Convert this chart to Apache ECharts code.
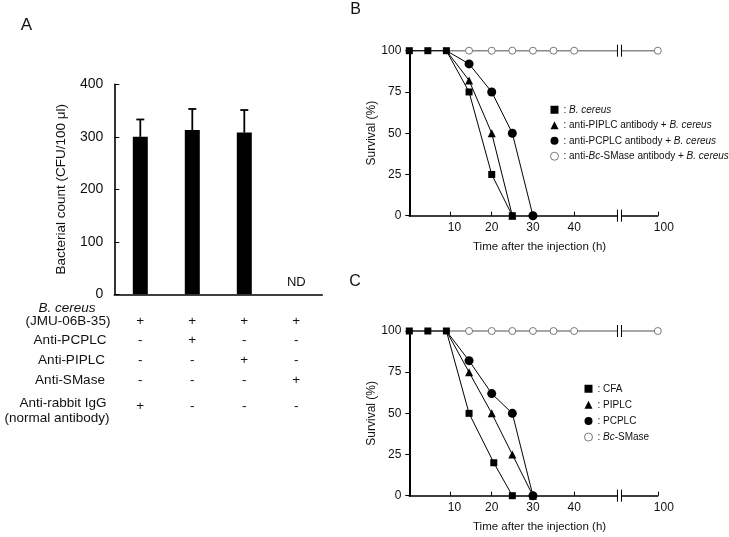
<!DOCTYPE html>
<html><head><meta charset="utf-8">
<script src="https://cdn.jsdelivr.net/npm/echarts@6/dist/echarts.min.js"></script>
<style>html,body{margin:0;padding:0;background:#fff}#c{width:729px;height:537px}</style>
</head><body><div id="c"></div>
<script>
// ---------- Panel A data ----------
const groups = ['G1', 'G2', 'G3', 'G4'];
const countMean = [300, 313, 308, 0];
const countUpper = [333, 353, 351, null];
const countLabel = ['', '', '', 'ND'];
const countTicks = [0, 100, 200, 300, 400];
const rowNames = ['B. cereus', '(JMU-06B-35)', 'Anti-PCPLC', 'Anti-PIPLC', 'Anti-SMase', 'Anti-rabbit IgG', '(normal antibody)'];
const rowBcereus = ['+', '+', '+', '+'];
const rowPCPLC = ['-', '+', '-', '-'];
const rowPIPLC = ['-', '-', '+', '-'];
const rowSMase = ['-', '-', '-', '+'];
const rowRabbit = ['+', '-', '-', '-'];

// ---------- Panel B data (time h, survival %) ----------
const bNames = ['B. cereus', 'anti-PIPLC antibody + B. cereus', 'anti-PCPLC antibody + B. cereus', 'anti-Bc-SMase antibody + B. cereus'];
const bSqT = [0, 4.5, 9, 14.5, 20, 25];
const bSqV = [100, 100, 100, 75, 25, 0];
const bTriT = [9, 14.5, 20, 25];
const bTriV = [100, 82, 50, 0];
const bCirT = [9, 14.5, 20, 25, 30];
const bCirV = [100, 92, 75, 50, 0];
const bOpenT = [0, 4.5, 9, 14.5, 20, 25, 30, 35, 40, 100];
const bOpenV = [100, 100, 100, 100, 100, 100, 100, 100, 100, 100];

// ---------- Panel C data ----------
const cNames = ['CFA', 'PIPLC', 'PCPLC', 'Bc-SMase'];
const cSqT = [0, 4.5, 9, 14.5, 20.5, 25];
const cSqV = [100, 100, 100, 50, 20, 0];
const cTriT = [9, 14.5, 20, 25, 30];
const cTriV = [100, 75, 50, 25, 0];
const cCirT = [9, 14.5, 20, 25, 30];
const cCirV = [100, 82, 62, 50, 0];
const cOpenT = [0, 4.5, 9, 14.5, 20, 25, 30, 35, 40, 100];
const cOpenV = [100, 100, 100, 100, 100, 100, 100, 100, 100, 100];

const survTicks = [0, 25, 50, 75, 100];
const timeTicks = [10, 20, 30, 40, 100];
const breakTime = 90.7;           // where the axis is broken (real hours)

// broken time axis: hours after the break are shifted left
const BREAK_SHIFT = 39.7;
const tPos = t => (t > 50 ? t - BREAK_SHIFT : t);
const X_MAX = tPos(100);

const FONT = 'Liberation Sans, Arial, sans-serif';

function pts(ts, vs, hideUpTo) {
  return ts.map((t, i) => {
    const item = { value: [tPos(t), vs[i]] };
    if (hideUpTo !== undefined && t <= hideUpTo) item.symbol = 'none';
    return item;
  });
}

function lineSeries(name, ts, vs, symbol, size, grid, hideUpTo, open) {
  return {
    type: 'line', name, xAxisIndex: grid, yAxisIndex: grid,
    data: pts(ts, vs, hideUpTo), symbol, symbolSize: size, clip: false,
    lineStyle: { color: open ? '#8a8a8a' : '#000', width: open ? 1.4 : 1 },
    itemStyle: open ? { color: '#fff', borderColor: '#777', borderWidth: 1 } : { color: '#000' },
    emphasis: { disabled: true }, z: open ? 2 : 3
  };
}

function breakSeries(grid) {
  return {
    type: 'custom', xAxisIndex: grid, yAxisIndex: grid, z: 5, clip: false,
    data: [[tPos(breakTime), 100], [tPos(breakTime), 0]],
    renderItem: (params, api) => {
      const p = api.coord([api.value(0), api.value(1)]);
      return { type: 'group', children: [
        { type: 'rect', shape: { x: p[0] - 1.5, y: p[1] - 5, width: 3, height: 10 }, style: { fill: '#fff' } },
        { type: 'line', shape: { x1: p[0] - 2, y1: p[1] - 6, x2: p[0] - 2, y2: p[1] + 6 }, style: { stroke: '#000', lineWidth: 1 } },
        { type: 'line', shape: { x1: p[0] + 2, y1: p[1] - 6, x2: p[0] + 2, y2: p[1] + 6 }, style: { stroke: '#000', lineWidth: 1 } }
      ] };
    }
  };
}

function legendFmt(name) {
  const it = s => '{i|' + s + '}';
  const n = s => '{n|' + s + '}';
  if (name.startsWith('anti-Bc-')) return n(': anti-') + it('Bc') + n(name.slice(7).replace(' B. cereus', ' ')) + it('B. cereus');
  if (name === 'Bc-SMase') return n(': ') + it('Bc') + n('-SMase');
  if (name === 'B. cereus') return n(': ') + it('B. cereus');
  if (name.endsWith('B. cereus')) return n(': ' + name.replace('B. cereus', '')) + it('B. cereus');
  return n(': ' + name);
}

function makeLegend(names, left, top, gap) {
  return {
    orient: 'vertical', left, top, itemWidth: 8, itemHeight: 8, itemGap: gap, padding: 0,
    selectedMode: false,
    data: [
      { name: names[0], icon: 'rect' },
      { name: names[1], icon: 'triangle' },
      { name: names[2], icon: 'circle' },
      { name: names[3], icon: 'circle', itemStyle: { color: '#fff', borderColor: '#777', borderWidth: 1 } }
    ],
    formatter: legendFmt,
    textStyle: { fontFamily: FONT, fontSize: 10, color: '#111', lineHeight: 11.5,
      rich: { i: { fontStyle: 'italic', fontSize: 10, fontFamily: FONT, color: '#111' }, n: { fontSize: 10, fontFamily: FONT, color: '#111' } } }
  };
}

function timeXAxis(grid) {
  return {
    gridIndex: grid, type: 'value', min: 0, max: X_MAX,
    axisLine: { lineStyle: { color: '#000', width: 1.6 } },
    axisTick: { show: true, inside: true, length: 4, customValues: timeTicks.map(tPos), lineStyle: { color: '#000', width: 1 } },
    axisLabel: { customValues: timeTicks.map(tPos), margin: 6, fontSize: 12, color: '#111', fontFamily: FONT,
      formatter: v => { const t = v > 50 ? 100 : Math.round(v); return t === 10 ? '{r1|10}' : t === 100 ? '{r2|100}' : String(t); },
      rich: { r1: { padding: [0, 0, 0, 8], fontSize: 12, fontFamily: FONT, color: '#111' }, r2: { padding: [0, 0, 0, 12], fontSize: 12, fontFamily: FONT, color: '#111' } } },
    splitLine: { show: false },
    name: 'Time after the injection (h)', nameLocation: 'middle', nameGap: 25,
    nameTextStyle: { fontSize: 11.5, color: '#111', fontFamily: FONT, padding: [0, 0, 0, 12] }
  };
}
function survYAxis(grid) {
  return {
    gridIndex: grid, type: 'value', min: survTicks[0], max: survTicks[survTicks.length - 1], interval: 25,
    axisLine: { show: true, lineStyle: { color: '#000', width: 2 } },
    axisTick: { show: true, length: 4, lineStyle: { color: '#000' } },
    axisLabel: { fontSize: 12, color: '#111', margin: 8, fontFamily: FONT },
    splitLine: { show: false },
    name: 'Survival (%)', nameLocation: 'middle', nameGap: 24,
    nameTextStyle: { fontSize: 12, color: '#111', fontFamily: FONT }
  };
}

const chart = echarts.init(document.getElementById('c'));
const textEl = (txt, x, y, size, extra) => ({ type: 'text', x, y, silent: true,
  style: Object.assign({ text: txt, fontSize: size, fontFamily: FONT, fill: '#111', align: 'center', verticalAlign: 'middle' }, extra || {}) });

const rowCenters = [[67, 308], [68, 321.7], [70, 340], [71.5, 360], [70, 380], [63, 403.3], [57, 418]];

chart.setOption({
  animation: false,
  textStyle: { fontFamily: FONT },
  grid: [
    { left: 114.3, top: 84.3, width: 208, height: 210 },
    { left: 409.3, top: 50.7, width: 248.5, height: 165 },
    { left: 409.3, top: 331, width: 248.5, height: 164.7 }
  ],
  legend: [makeLegend(bNames, 550, 104, 4), makeLegend(cNames, 584, 383, 4.6)],
  xAxis: [
    { gridIndex: 0, type: 'category', data: groups, boundaryGap: true,
      axisLine: { lineStyle: { color: '#000', width: 1.6 } },
      axisTick: { inside: true, length: 4, lineStyle: { color: '#000' } },
      axisLabel: { interval: 0, margin: 19, color: '#111', fontSize: 13.5, fontFamily: FONT,
        formatter: (v, i) => `{a|${rowBcereus[i]}}\n{b|${rowPCPLC[i]}}\n{b|${rowPIPLC[i]}}\n{b|${rowSMase[i]}}\n{c|${rowRabbit[i]}}`,
        rich: { a: { lineHeight: 16.6, fontSize: 13.5, fontFamily: FONT, color: '#111' },
                b: { lineHeight: 20, fontSize: 13.5, fontFamily: FONT, color: '#111' },
                c: { lineHeight: 32, fontSize: 13.5, fontFamily: FONT, color: '#111' } } } },
    timeXAxis(1), timeXAxis(2)
  ],
  yAxis: [
    { gridIndex: 0, type: 'value', min: countTicks[0], max: countTicks[countTicks.length - 1], interval: 100,
      axisLine: { show: true, lineStyle: { color: '#000', width: 1.6 } },
      axisTick: { show: true, inside: true, length: 5, lineStyle: { color: '#000' } },
      axisLabel: { fontSize: 14, color: '#111', margin: 11, fontFamily: FONT },
      splitLine: { show: false },
      name: 'Bacterial count (CFU/100 μl)', nameLocation: 'middle', nameGap: 46,
      nameTextStyle: { fontSize: 13.5, color: '#111', fontFamily: FONT } },
    survYAxis(1), survYAxis(2)
  ],
  series: [
    { type: 'bar', xAxisIndex: 0, yAxisIndex: 0, barWidth: 15,
      data: countMean.map((v, i) => ({ value: v, label: { show: !!countLabel[i], formatter: countLabel[i] } })),
      itemStyle: { color: '#000' },
      label: { position: 'top', distance: 5, fontSize: 13, color: '#111', fontFamily: FONT } },
    { type: 'custom', xAxisIndex: 0, yAxisIndex: 0, z: 3,
      data: countMean.map((v, i) => [i, v, countUpper[i]]).filter(d => d[2] !== null),
      renderItem: (params, api) => {
        const base = api.coord([api.value(0), api.value(1)]);
        const top = api.coord([api.value(0), api.value(2)]);
        return { type: 'group', children: [
          { type: 'line', shape: { x1: base[0], y1: base[1], x2: top[0], y2: top[1] }, style: { stroke: '#000', lineWidth: 1.8 } },
          { type: 'line', shape: { x1: top[0] - 4, y1: top[1], x2: top[0] + 4, y2: top[1] }, style: { stroke: '#000', lineWidth: 1.8 } }
        ] };
      } },
    // Panel B
    lineSeries(bNames[3], bOpenT, bOpenV, 'circle', 7, 1, 9, true),
    lineSeries(bNames[1], bTriT, bTriV, 'triangle', 8, 1, 9),
    lineSeries(bNames[2], bCirT, bCirV, 'circle', 9, 1, 9),
    lineSeries(bNames[0], bSqT, bSqV, 'rect', 7, 1),
    breakSeries(1),
    // Panel C
    lineSeries(cNames[3], cOpenT, cOpenV, 'circle', 7, 2, 9, true),
    lineSeries(cNames[1], cTriT, cTriV, 'triangle', 8, 2, 9),
    lineSeries(cNames[2], cCirT, cCirV, 'circle', 9, 2, 9),
    lineSeries(cNames[0], cSqT, cSqV, 'rect', 7, 2),
    breakSeries(2)
  ],
  graphic: [
    textEl('A', 26.5, 25, 17),
    textEl('B', 355.5, 10, 16),
    textEl('C', 355, 282, 16),
    ...rowNames.map((nm, i) => textEl(nm, rowCenters[i][0], rowCenters[i][1], 13.5, i === 0 ? { fontStyle: 'italic' } : {}))
  ]
});
</script></body></html>
